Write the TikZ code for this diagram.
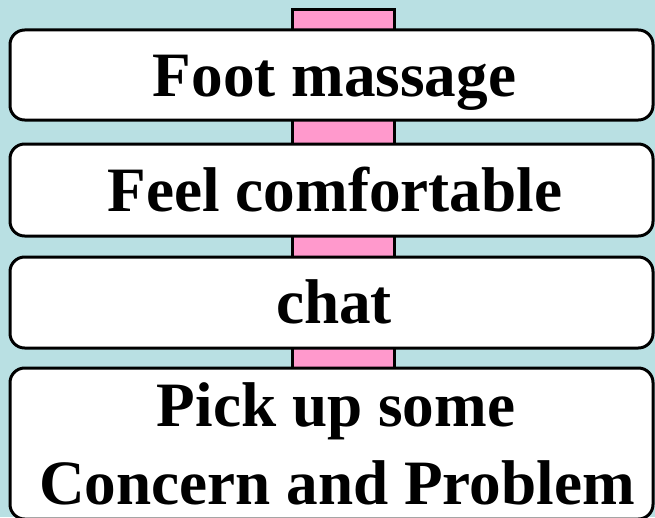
\documentclass[tikz,border=0pt]{standalone}
\usepackage{fontspec}
\setmainfont{Liberation Serif}
\definecolor{bgblue}{HTML}{B9E0E3}
\definecolor{barpink}{HTML}{FF99CC}
\begin{document}
\begin{tikzpicture}[x=0.75pt,y=-0.75pt,
  box/.style={draw=black, line width=2.25pt, fill=white, rounded corners=11pt,
    minimum width=482.25pt, inner sep=0pt, outer sep=0pt},
  txt/.style={font=\fontsize{47.4}{58.5}\selectfont\bfseries, inner sep=0pt, anchor=base, align=center}]
\useasboundingbox (0,0) rectangle (655,517);
\clip (0,0) rectangle (655,517);
\fill[bgblue] (0,0) rectangle (655,517);
\draw[fill=barpink, line width=2.25pt] (292.5,9.5) rectangle (394.5,540);
\node[box, minimum height=67.5pt] (b1) at (331.5,75) {};
\node[box, minimum height=69pt] (b2) at (331.5,190) {};
\node[box, minimum height=68.25pt] (b3) at (331.5,302.5) {};
\node[box, minimum height=113.25pt] (b4) at (331.5,443.5) {};
\node[txt] (t1) at (334.5,96) {Foot massage};
\node[txt] (t2) at (335,211) {Feel comfortable};
\node[txt] (t3) at (334,323) {chat};
\node[txt] (t4) at (336,426) {Pick up some};
\node[txt] (t5) at (337,504) {Concern and Problem};
\end{tikzpicture}
\end{document}
